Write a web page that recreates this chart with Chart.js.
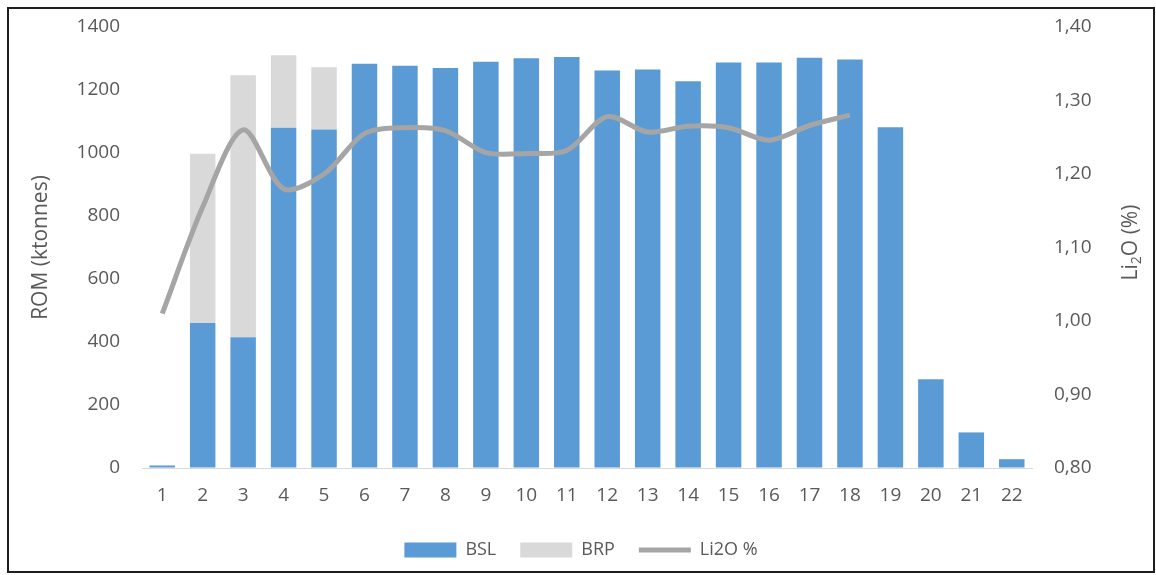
<!DOCTYPE html>
<html>
<head>
<meta charset="utf-8">
<script src="https://cdn.jsdelivr.net/npm/chart.js@4.4.1/dist/chart.umd.min.js"></script>
<style>
  body { margin: 0; background: #fff; }
  #frame {
    position: absolute; left: 7px; top: 7px;
    width: 1148px; height: 566px;
    box-sizing: border-box;
    border: 2px solid #1e1e1e;
    background: #fff;
  }
  #box { position: absolute; left: 0; top: 0; width: 1144px; height: 562px; }
</style>
</head>
<body>
<div id="frame"><div id="box"><canvas id="myChart"></canvas></div></div>
<script>
// periods on the x axis
var periods = ['1','2','3','4','5','6','7','8','9','10','11','12','13','14','15','16','17','18','19','20','21','22'];

// ROM tonnage, ktonnes
var bsl = [8, 460, 415, 1080, 1075, 1283, 1277, 1270, 1290, 1301, 1305, 1262, 1265, 1228, 1287, 1287, 1302, 1297, 1082, 282, 113, 28];
var brp = [null, 538, 832, 230, 197, null, null, null, null, null, null, null, null, null, null, null, null, null, null, null, null, null];

// head grade, Li2O %
var li2o = [1.01, 1.155, 1.26, 1.18, 1.20, 1.255, 1.263, 1.259, 1.229, 1.228, 1.232, 1.278, 1.257, 1.265, 1.263, 1.246, 1.266, 1.28, null, null, null, null];

var leftTicks = [0, 200, 400, 600, 800, 1000, 1200, 1400];
var rightTicks = [0.8, 0.9, 1.0, 1.1, 1.2, 1.3, 1.4];

var txt = '#595959';
var fam = "'Open Sans', sans-serif";

// invisible tick marks, used only as the gap between axis and labels
var hiddenTicks = { display: true, drawOnChartArea: false, drawTicks: true, tickLength: 22, color: 'rgba(0,0,0,0)' };

// right axis title reads bottom-to-top with a subscript 2
var li2oTitle = {
    id: 'li2oTitle',
    afterDraw: function(chart){
        var c = chart.ctx, a = chart.chartArea;
        c.save();
        c.translate(1122, (a.top + a.bottom) / 2 - 5);
        c.rotate(-Math.PI / 2);
        c.fillStyle = txt;
        c.textBaseline = 'middle';
        c.font = '21px ' + fam;
        var w1 = c.measureText('Li').width;
        var w3 = c.measureText('O (%)').width;
        c.font = '14px ' + fam;
        var w2 = c.measureText('2').width;
        var x = -(w1 + w2 + w3) / 2;
        c.font = '21px ' + fam;
        c.fillText('Li', x, 0);
        c.font = '14px ' + fam;
        c.fillText('2', x + w1, 6);
        c.font = '21px ' + fam;
        c.fillText('O (%)', x + w1 + w2, 0);
        c.restore();
    }
};

var ctx = document.getElementById('myChart').getContext('2d');

var myChart = new Chart(ctx, {
    type: 'bar',
    data: {
        labels: periods,
        datasets: [{
            label: 'BSL',
            data: bsl,
            backgroundColor: '#5b9bd5',
            stack: 'rom',
            order: 1,
            pointStyle: 'rect'
        }, {
            label: 'BRP',
            data: brp,
            backgroundColor: '#d9d9d9',
            stack: 'rom',
            order: 1,
            pointStyle: 'rect'
        }, {
            type: 'line',
            label: 'Li2O %',
            data: li2o,
            yAxisID: 'y1',
            borderColor: '#a5a5a5',
            backgroundColor: '#a5a5a5',
            borderWidth: 5,
            tension: 0.3,
            pointRadius: 0,
            pointBorderWidth: 5,
            pointStyle: 'line',
            order: 0
        }]
    },
    options: {
        responsive: true,
        maintainAspectRatio: false,
        animation: false,
        layout: { padding: { top: 18, bottom: 2 } },
        datasets: { bar: { categoryPercentage: 1, barPercentage: 0.63 } },
        scales: {
            x: {
                stacked: true,
                grid: { display: false, drawTicks: false },
                border: { color: '#d9d9d9', width: 1 },
                ticks: { color: txt, font: { family: fam, size: 19 }, padding: 16 },
                afterFit: function(s){ s.height = 49; }
            },
            y: {
                stacked: true,
                min: 0, max: 1400,
                afterBuildTicks: function(s){ s.ticks = leftTicks.map(function(v){ return { value: v }; }); },
                grid: hiddenTicks,
                border: { display: false },
                ticks: {
                    color: txt, font: { family: fam, size: 19 }, padding: 0,
                    callback: function(v){ return String(v); }
                },
                title: { display: true, text: 'ROM (ktonnes)', color: txt, font: { family: fam, size: 21 }, padding: { top: 19 } },
                afterFit: function(s){ s.width = 133; }
            },
            y1: {
                position: 'right',
                min: 0.8, max: 1.4,
                afterBuildTicks: function(s){ s.ticks = rightTicks.map(function(v){ return { value: v }; }); },
                grid: hiddenTicks,
                border: { display: false },
                ticks: {
                    color: txt, font: { family: fam, size: 19 }, padding: 0,
                    callback: function(v){ return v.toFixed(2).replace('.', ','); }
                },
                afterFit: function(s){ s.width = 121; }
            }
        },
        plugins: {
            legend: {
                position: 'bottom',
                labels: {
                    color: txt,
                    font: { family: fam, size: 18 },
                    usePointStyle: true,
                    pointStyleWidth: 52,
                    boxHeight: 15,
                    padding: 24,
                    sort: function(a, b){ return a.datasetIndex - b.datasetIndex; }
                }
            },
            tooltip: { enabled: false }
        }
    },
    plugins: [li2oTitle]
});
</script>
</body>
</html>
